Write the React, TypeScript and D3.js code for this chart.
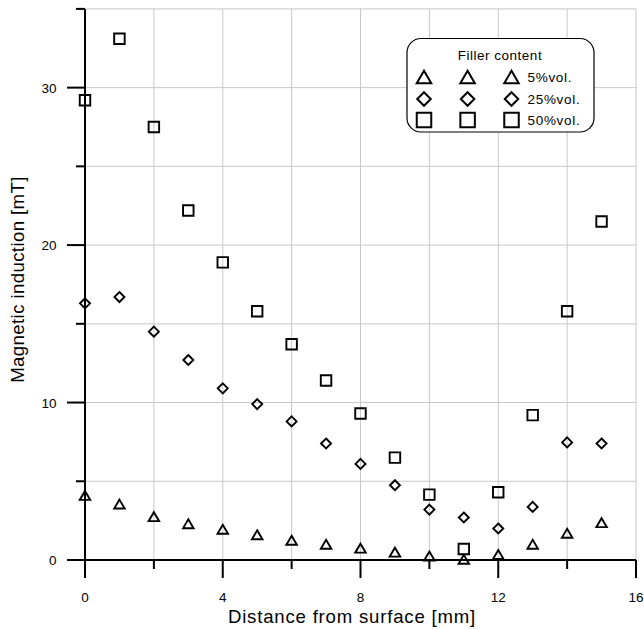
import React from "react";
import * as d3 from "d3";

const distances = [0, 1, 2, 3, 4, 5, 6, 7, 8, 9, 10, 11, 12, 13, 14, 15];
const vol5 = [4.1, 3.55, 2.75, 2.3, 1.95, 1.6, 1.25, 1.0, 0.75, 0.5, 0.25, 0.05, 0.35, 1.0, 1.7, 2.37];
const vol25 = [16.3, 16.7, 14.5, 12.7, 10.9, 9.9, 8.8, 7.4, 6.1, 4.75, 3.2, 2.7, 2.0, 3.37, 7.47, 7.4];
const vol50 = [29.2, 33.1, 27.5, 22.2, 18.9, 15.8, 13.7, 11.4, 9.3, 6.5, 4.15, 0.7, 4.3, 9.2, 15.8, 21.5];
const seriesNames = ["5%vol.", "25%vol.", "50%vol."];
const xMajor = [0, 4, 8, 12, 16];
const xMinor = [2, 6, 10, 14];
const yMajor = [0, 10, 20, 30];
const yMinor = [5, 15, 25, 35];

const FONT = "'Liberation Sans', Arial, sans-serif";

function markerPath(kind: string, s: number) {
  const h = s / 2;
  if (kind === "tri") {
    const th = s * 0.85;
    return `M0,${-th / 2}L${h},${th / 2}L${-h},${th / 2}Z`;
  }
  if (kind === "dia") {
    return `M0,${-h}L${h},0L0,${h}L${-h},0Z`;
  }
  return `M${-h},${-h}H${h}V${h}H${-h}Z`;
}

export default function App() {
  const W = 644, H = 630;
  const x = d3.scaleLinear().domain([0, 16]).range([85, 636]);
  const y = d3.scaleLinear().domain([0, 35]).range([560, 8.9]);
  const series = [
    { kind: "tri", vals: vol5, size: 10.5, lsize: 14.5 },
    { kind: "dia", vals: vol25, size: 10, lsize: 13.5 },
    { kind: "sq", vals: vol50, size: 10.5, lsize: 14.5 },
  ];
  const gridX = d3.range(2, 17, 2);
  const gridY = d3.range(5, 36, 5);
  const majorLen = 18, minorLen = 9;
  const legendCols = [424, 467.6, 511.5];
  const legendRows = [77, 99, 120];

  return (
    <svg width={W} height={H} style={{ position: "absolute", left: 0, top: 0, background: "#fff" }} fontFamily={FONT}>
      <rect x={0} y={0} width={W} height={H} fill="#fff" />
      {gridX.map((v) => (
        <line key={"gx" + v} x1={x(v)} x2={x(v)} y1={y(0)} y2={y(35)} stroke="#c8c8c8" strokeWidth={1} />
      ))}
      {gridY.map((v) => (
        <line key={"gy" + v} x1={x(0)} x2={x(16)} y1={y(v)} y2={y(v)} stroke="#c8c8c8" strokeWidth={1} />
      ))}
      <line x1={x(0)} x2={x(16)} y1={y(0)} y2={y(0)} stroke="#000" strokeWidth={2} />
      <line x1={x(0)} x2={x(0)} y1={y(0)} y2={y(35)} stroke="#000" strokeWidth={2} />
      {xMajor.map((v) => (
        <g key={"xm" + v}>
          <line x1={x(v)} x2={x(v)} y1={y(0)} y2={y(0) + majorLen} stroke="#000" strokeWidth={2} />
          <text x={x(v)} y={601.5} textAnchor="middle" fontSize={13.5} fill="#000">{v}</text>
        </g>
      ))}
      {xMinor.map((v) => (
        <line key={"xn" + v} x1={x(v)} x2={x(v)} y1={y(0)} y2={y(0) + minorLen} stroke="#000" strokeWidth={2} />
      ))}
      {yMajor.map((v) => (
        <g key={"ym" + v}>
          <line x1={x(0) - majorLen} x2={x(0)} y1={y(v)} y2={y(v)} stroke="#000" strokeWidth={2} />
          <text x={56.5} y={y(v) + 5} textAnchor="end" fontSize={13.5} fill="#000">{v}</text>
        </g>
      ))}
      {yMinor.map((v) => (
        <line key={"yn" + v} x1={x(0) - minorLen} x2={x(0)} y1={y(v)} y2={y(v)} stroke="#000" strokeWidth={2} />
      ))}
      <text x={352} y={622.5} textAnchor="middle" fontSize={18.6} letterSpacing={0.8} fill="#000">
        Distance from surface [mm]
      </text>
      <text transform={`translate(24,279.5) rotate(-90)`} textAnchor="middle" fontSize={18.6} letterSpacing={0.4} fill="#000">
        Magnetic induction [mT]
      </text>
      {series.map((s, si) =>
        s.vals.map((v, i) => (
          <path
            key={"p" + si + "-" + i}
            d={markerPath(s.kind, s.size)}
            transform={`translate(${x(distances[i])},${y(v)})`}
            fill="none"
            stroke="#000"
            strokeWidth={1.9}
          />
        ))
      )}
      <rect x={407} y={38.5} width={187} height={93.5} rx={14} ry={14} fill="#fff" stroke="#000" strokeWidth={1.2} />
      <text x={500} y={60} textAnchor="middle" fontSize={13.5} letterSpacing={0.5} fill="#000">Filler content</text>
      {series.map((s, si) => (
        <g key={"lg" + si}>
          {legendCols.map((cx, ci) => (
            <path
              key={"lc" + ci}
              d={markerPath(s.kind, s.lsize)}
              transform={`translate(${cx},${legendRows[si]})`}
              fill="none"
              stroke="#000"
              strokeWidth={2}
            />
          ))}
          <text x={527.5} y={legendRows[si] + 5} fontSize={13.5} letterSpacing={0.7} fill="#000">{seriesNames[si]}</text>
        </g>
      ))}
    </svg>
  );
}
